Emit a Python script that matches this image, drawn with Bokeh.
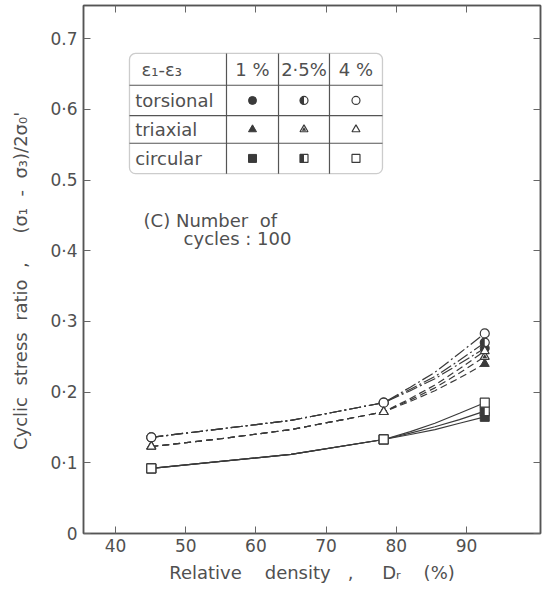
import math
from bokeh.plotting import figure
from bokeh.models import (LinearAxis, FixedTicker, Label, BoxAnnotation, Range1d,
                          ColumnDataSource)
from bokeh.transform import dodge
from bokeh.embed import file_html
from bokeh.resources import INLINE

# ---------------- data ----------------
dr_points = [45.1, 78.2, 92.6]                          # test densities (%)
dr_curve = [45.1, 55, 65, 78.2, 82, 85.5, 89, 92.6]     # where curves were read

tors_1 = [0.136, 0.148, 0.160, 0.185, 0.202, 0.219, 0.240, 0.262]
tors_25 = [0.136, 0.148, 0.160, 0.185, 0.204, 0.222, 0.245, 0.270]
tors_4 = [0.136, 0.148, 0.160, 0.185, 0.207, 0.228, 0.255, 0.283]
tri_1 = [0.123, 0.134, 0.147, 0.172, 0.187, 0.202, 0.220, 0.240]
tri_25 = [0.123, 0.134, 0.147, 0.172, 0.189, 0.206, 0.227, 0.250]
tri_4 = [0.123, 0.134, 0.147, 0.172, 0.191, 0.210, 0.233, 0.258]
circ_1 = [0.092, 0.102, 0.112, 0.133, 0.140, 0.147, 0.156, 0.165]
circ_25 = [0.092, 0.102, 0.112, 0.133, 0.142, 0.151, 0.161, 0.173]
circ_4 = [0.092, 0.102, 0.112, 0.133, 0.144, 0.156, 0.170, 0.185]

tors_pts_1 = [0.136, 0.185, 0.262]
tors_pts_25 = [0.136, 0.185, 0.270]
tors_pts_4 = [0.136, 0.185, 0.283]
tri_pts_1 = [0.123, 0.172, 0.240]
tri_pts_25 = [0.123, 0.172, 0.250]
tri_pts_4 = [0.123, 0.172, 0.258]
circ_pts_1 = [0.092, 0.133, 0.165]
circ_pts_25 = [0.092, 0.133, 0.173]
circ_pts_4 = [0.092, 0.133, 0.185]

x_ticks = [40, 50, 60, 70, 80, 90]
y_ticks = [0, 0.1, 0.2, 0.3, 0.4, 0.5, 0.6, 0.7]
y_tick_labels = ["0", "0·1", "0·2", "0·3", "0·4", "0.5", "0·6", "0.7"]

table_header = ["ε₁-ε₃", "1 %", "2·5%", "4 %"]
table_rows = ["torsional", "triaxial", "circular"]

# ---------------- style ----------------
FONT = "DejaVu Sans"
TXT = "#505050"
LINE = "#3a3a3a"
AX = "#555555"
S = "\u00a0"  # non-collapsing space


def sp(n):
    return S * n


X0, X1 = 35.44, 100.54
FW, FH = 457, 528
Y1 = FH / 707.0
PX = FW / (X1 - X0)  # px per data unit on x

p = figure(frame_width=FW, frame_height=FH, x_range=Range1d(X0, X1),
           y_range=Range1d(0, Y1), output_backend="svg", toolbar_location=None,
           min_border_left=83, min_border_right=4, min_border_top=5,
           min_border_bottom=0)
p.xgrid.visible = False
p.ygrid.visible = False
p.outline_line_color = AX
p.outline_line_width = 1.5
p.background_fill_color = "white"


def style_axis(ax, ticks, show_labels=True):
    ax.ticker = FixedTicker(ticks=ticks)
    ax.axis_line_color = AX
    ax.axis_line_width = 1.5
    ax.major_tick_in = 7
    ax.major_tick_out = 0
    ax.major_tick_line_color = "#666666"
    ax.major_tick_line_width = 1
    ax.minor_tick_line_color = None
    if show_labels:
        ax.major_label_text_font = FONT
        ax.major_label_text_font_size = "17px"
        ax.major_label_text_color = TXT
        ax.axis_label_text_font = FONT
        ax.axis_label_text_font_size = "18px"
        ax.axis_label_text_font_style = "normal"
        ax.axis_label_text_color = TXT
    else:
        ax.major_label_text_color = None
        ax.major_label_text_font_size = "0px"
        ax.major_label_standoff = 0


xa = p.xaxis[0]
style_axis(xa, x_ticks)
xa.axis_label = ("Relative" + sp(4) + "density" + sp(3) + "," + sp(5) + "Dᵣ"
                 + sp(4) + "(%)")
xa.major_label_standoff = 5
xa.axis_label_standoff = 7

ya = p.yaxis[0]
style_axis(ya, y_ticks)
ya.major_label_overrides = dict(zip(y_ticks, y_tick_labels))
ya.axis_label = ("Cyclic" + sp(2) + "stress" + sp(2) + "ratio" + sp(2) + ","
                 + sp(5) + "(σ₁" + sp(2) + "-" + sp(2) + "σ₃)/2σ₀'" + sp(4))
ya.major_label_standoff = 6
ya.axis_label_standoff = 16

ra = LinearAxis()
style_axis(ra, y_ticks, show_labels=False)
p.add_layout(ra, "right")
ta = LinearAxis()
style_axis(ta, x_ticks, show_labels=False)
p.add_layout(ta, "above")

# ---------------- curves ----------------
DASHDOT = "12 3 2 3"
DASHED = "7 4"
for ys in (tors_1, tors_25, tors_4):
    p.line(dr_curve, ys, line_color=LINE, line_width=1.2, line_dash=DASHDOT)
for ys in (tri_1, tri_25, tri_4):
    p.line(dr_curve, ys, line_color=LINE, line_width=1.2, line_dash=DASHED)
for ys in (circ_1, circ_25, circ_4):
    p.line(dr_curve, ys, line_color=LINE, line_width=1.2)

MS = 9


def filled(x, y, marker, size=MS):
    p.scatter(x, y, marker=marker, size=size, fill_color=LINE, line_color=LINE,
              line_width=1)


def opened(x, y, marker, size=MS):
    p.scatter(x, y, marker=marker, size=size, fill_color="white",
              line_color=LINE, line_width=1.2)


def half(x, y, marker, size=MS):
    opened(x, y, marker, size)
    if marker == "circle":
        p.wedge(x, y, radius=size / 2, radius_units="screen",
                start_angle=math.pi / 2, end_angle=3 * math.pi / 2,
                fill_color=LINE, line_color=None)
    elif marker == "triangle":
        p.scatter(x, y, marker="triangle", size=size * 0.55, fill_color=LINE,
                  line_color=None)
    else:
        src = ColumnDataSource(dict(x=list(x), y=list(y)))
        p.rect(x=dodge("x", -size / 4 / PX, range=p.x_range), y="y",
               width=size / 2, height=size, width_units="screen",
               height_units="screen", source=src, fill_color=LINE,
               line_color=None)


# markers: 1% filled, 2.5% half, 4% open (drawn last)
filled(dr_points, tors_pts_1, "circle")
filled(dr_points, tri_pts_1, "triangle")
filled(dr_points, circ_pts_1, "square")
half(dr_points, tors_pts_25, "circle")
half(dr_points, tri_pts_25, "triangle")
half(dr_points, circ_pts_25, "square")
opened(dr_points, tors_pts_4, "circle")
opened(dr_points, tri_pts_4, "triangle")
opened(dr_points, circ_pts_4, "square")

# ---------------- legend table ----------------
tl, tr = 41.99, 78.03
col_div = [55.81, 63.22, 70.48]
tt, tb = 0.679, 0.509
row_div = [0.634, 0.591, 0.552]

p.add_layout(BoxAnnotation(left=tl, right=tr, top=tt, bottom=tb,
                           fill_color=None, line_color=AX, line_width=1.3,
                           border_radius=6))
p.segment(x0=col_div, y0=[tb] * 3, x1=col_div, y1=[tt] * 3,
          line_color=AX, line_width=1.2)
p.segment(x0=[tl] * 3, y0=row_div, x1=[tr] * 3, y1=row_div,
          line_color=AX, line_width=1.2)

col_c = [(col_div[0] + col_div[1]) / 2, (col_div[1] + col_div[2]) / 2,
         (col_div[2] + tr) / 2]
row_edges = [tt] + row_div + [tb]
row_c = [(row_edges[i] + row_edges[i + 1]) / 2 for i in range(4)]


def tlabel(x, y, text, align="left", size="18px"):
    p.add_layout(Label(x=x, y=y, text=text, text_font=FONT,
                       text_font_size=size, text_color=TXT,
                       text_align=align, text_baseline="middle"))


tlabel(43.7, row_c[0], table_header[0])
for i in range(3):
    tlabel(col_c[i], row_c[0], table_header[i + 1], align="center")
for i, name in enumerate(table_rows):
    tlabel(42.8, row_c[i + 1], name)

LS = 8
shapes = ["circle", "triangle", "square"]
for i, shp in enumerate(shapes):
    yy = [row_c[i + 1]]
    filled([col_c[0]], yy, shp, LS)
    half([col_c[1]], yy, shp, LS)
    opened([col_c[2]], yy, shp, LS)

# ---------------- annotation ----------------
tlabel(44.0, 0.443, "(C)" + S + "Number" + sp(2) + "of")
tlabel(49.7, 0.417, "cycles" + S + ":" + S + "100")

open("out.html", "w").write(file_html(p, INLINE))
